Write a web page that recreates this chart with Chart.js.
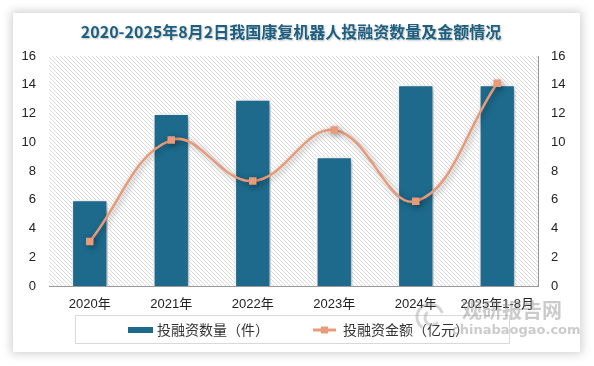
<!DOCTYPE html>
<html>
<head>
<meta charset="utf-8">
<script src="https://cdn.jsdelivr.net/npm/chart.js@4"></script>
<style>
html,body{margin:0;padding:0;background:#fff;width:594px;height:366px;overflow:hidden;}
#card{position:absolute;left:13px;top:13px;width:567px;height:339px;background:#fff;box-shadow:0 0 9px 2px rgba(0,0,0,0.18);}
#wrap{position:absolute;left:0;top:0;width:594px;height:366px;}
</style>
</head>
<body>
<div id="card"></div>
<div id="wrap"><canvas id="c" width="594" height="366"></canvas></div>
<script>
const title = '2020-2025年8月2日我国康复机器人投融资数量及金额情况';
const categories = ['2020年','2021年','2022年','2023年','2024年','2025年1-8月'];
const dealCount = [6, 12, 13, 9, 14, 14];
const dealAmount = [3.1, 10.15, 7.3, 10.85, 5.9, 14.1];
const yTicks = [0, 2, 4, 6, 8, 10, 12, 14, 16];
const seriesNames = ['投融资数量（件）', '投融资金额（亿元）'];

const BAR = '#1d6a8c';
const LINE = '#e99a78';
const FONT = '"Liberation Sans", "Noto Sans CJK SC", sans-serif';
const CJK = '"Noto Sans CJK SC", sans-serif';

function hatch(ctx){
  const p = document.createElement('canvas');
  p.width = 4; p.height = 4;
  const g = p.getContext('2d');
  g.fillStyle = '#fff'; g.fillRect(0,0,4,4);
  g.strokeStyle = '#dadada'; g.lineWidth = 1;
  g.beginPath();
  g.moveTo(-1,-1); g.lineTo(5,5);
  g.moveTo(-1,3); g.lineTo(1,5);
  g.moveTo(3,-1); g.lineTo(5,1);
  g.stroke();
  return ctx.createPattern(p,'repeat');
}

const deco = {
  id:'deco',
  beforeDraw(chart){
    const {ctx, chartArea:a} = chart;
    ctx.save();
    ctx.fillStyle = hatch(ctx);
    ctx.fillRect(a.left, a.top, a.right-a.left, a.bottom-a.top);
    ctx.restore();
    ctx.save();
    ctx.font = 'bold 16px ' + CJK;
    ctx.fillStyle = '#1c5f80';
    ctx.textAlign = 'center';
    ctx.textBaseline = 'middle';
    ctx.shadowColor = 'rgba(0,0,0,0.25)';
    ctx.shadowBlur = 2; ctx.shadowOffsetX = 1; ctx.shadowOffsetY = 1;
    ctx.fillText(title, 291, 32);
    ctx.restore();
  },
  beforeDatasetDraw(chart, args){
    const ctx = chart.ctx;
    ctx.save();
    ctx.shadowColor = 'rgba(0,0,0,0.35)';
    ctx.shadowBlur = 6;
    ctx.shadowOffsetX = 2;
    ctx.shadowOffsetY = 2;
  },
  afterDatasetDraw(chart){
    chart.ctx.restore();
  },
  afterDraw(chart){
    const ctx = chart.ctx;
    ctx.save();
    ctx.strokeStyle = '#d9d9d9'; ctx.lineWidth = 1;
    ctx.strokeRect(75.5, 315.5, 434, 28);
    ctx.font = '14px ' + CJK;
    ctx.textBaseline = 'middle';
    ctx.fillStyle = BAR;
    ctx.fillRect(128, 327, 25, 6);
    ctx.fillStyle = '#333';
    ctx.fillText(chart.data.datasets[1].label, 157, 330);
    ctx.strokeStyle = LINE; ctx.lineWidth = 3;
    ctx.beginPath(); ctx.moveTo(313, 330); ctx.lineTo(336, 330); ctx.stroke();
    ctx.fillStyle = LINE; ctx.fillRect(321, 326.5, 7, 7);
    ctx.fillStyle = '#333';
    ctx.fillText(chart.data.datasets[0].label, 343, 330);
    ctx.fillStyle = 'rgba(140,140,140,0.45)';
    ctx.font = 'bold 20px ' + CJK;
    ctx.fillText('观研报告网', 462, 310);
    ctx.font = 'bold 13px "DejaVu Sans", sans-serif';
    ctx.fillText('chinabaogao.com', 452, 331);
    ctx.strokeStyle = 'rgba(150,150,150,0.4)'; ctx.lineWidth = 3;
    ctx.beginPath(); ctx.arc(430, 317, 13, Math.PI*0.7, Math.PI*1.9); ctx.stroke();
    ctx.beginPath(); ctx.arc(432, 318, 7, Math.PI*0.2, Math.PI*1.3); ctx.stroke();
    ctx.restore();
  }
};

new Chart(document.getElementById('c'), {
  data:{
    labels: categories,
    datasets:[
      {
        type:'line', label: seriesNames[1], data: dealAmount, yAxisID:'y1', order:0,
        borderColor: LINE, backgroundColor: LINE, borderWidth: 2.5,
        tension: 0.4, pointStyle:'rect', pointRadius: 5.3, pointBorderWidth: 0,
        pointBackgroundColor: LINE
      },
      {
        type:'bar', label: seriesNames[0], data: dealCount, yAxisID:'y', order:1,
        backgroundColor: BAR, borderColor:'#fff', borderWidth: 1.5,
        categoryPercentage: 1, barPercentage: 0.445
      }
    ]
  },
  options:{
    responsive:false, animation:false,
    layout:{padding:{top:56,left:0,right:0,bottom:0}},
    plugins:{legend:{display:false}, tooltip:{enabled:false}},
    scales:{
      x:{
        grid:{display:false, drawTicks:false},
        border:{display:true, color:'#999', width:1},
        ticks:{padding:11, color:'#222', font:{family:FONT, size:13}},
        afterFit(s){ s.height = 80; }
      },
      y:{
        position:'left', min:0, max:16,
        afterBuildTicks(s){ s.ticks = yTicks.map(v=>({value:v})); },
        grid:{display:false, drawTicks:false},
        border:{display:false},
        ticks:{padding:13, color:'#222', font:{family:FONT, size:13}},
        afterFit(s){ s.width = 49; }
      },
      y1:{
        position:'right', min:0, max:16,
        afterBuildTicks(s){ s.ticks = yTicks.map(v=>({value:v})); },
        grid:{display:false, drawOnChartArea:false, drawTicks:true, tickLength:4, color:'#999'},
        border:{display:true, color:'#999', width:1},
        ticks:{padding:9, color:'#222', font:{family:FONT, size:13}},
        afterFit(s){ s.width = 56; }
      }
    }
  },
  plugins:[deco]
});
</script>
</body>
</html>
